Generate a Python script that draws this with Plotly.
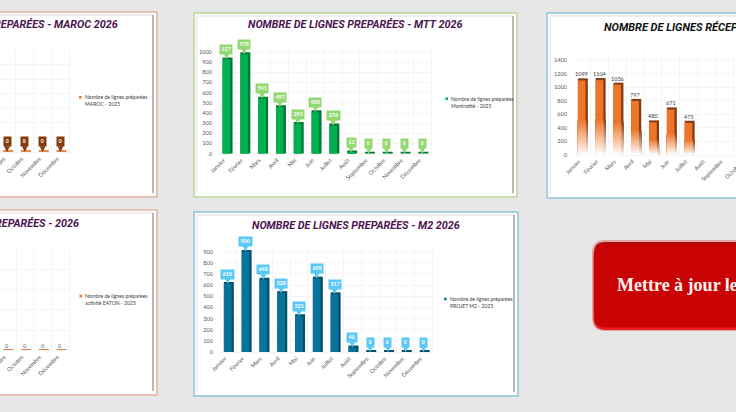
import plotly.graph_objects as go

W, H = 736, 412
MONTHS = ["Janvier", "Février", "Mars", "Avril", "Mai", "Juin", "Juillet", "Août",
          "Septembre", "Octobre", "Novembre", "Décembre"]

mtt_values = [927, 978, 541, 457, 291, 408, 276, 12, 0, 0, 0, 0]
m2_values = [610, 900, 648, 528, 321, 658, 517, 40, 0, 0, 0, 0]
recep_values = [1099, 1104, 1036, 797, 480, 671, 475]
maroc_months = ["Septembre", "Octobre", "Novembre", "Décembre"]
maroc_values = [0, 0, 0, 0]
eaton_months = ["Septembre", "Octobre", "Novembre", "Décembre"]
eaton_values = [0, 0, 0, 0]

TITLE_FONT = "Roboto, sans-serif"
BODY_FONT = "Lato, sans-serif"
TITLE_PURPLE = "#4b1450"


def px(x):
    return x / W


def py(y):
    return 1 - y / H


shapes, annotations = [], []
fig = go.Figure()
layout = {}


def panel(x0, y0, x1, y1, border):
    shapes.append(dict(type="rect", xref="paper", yref="paper", x0=px(x0), x1=px(x1), y0=py(y0), y1=py(y1),
                       fillcolor="white", line=dict(color=border, width=2), layer="below"))
    shapes.append(dict(type="line", xref="paper", yref="paper", x0=px(x0 + 3), x1=px(x1 - 4), y0=py(y0 + 3), y1=py(y0 + 3),
                       line=dict(color="#dddddd", width=1), layer="below"))
    shapes.append(dict(type="line", xref="paper", yref="paper", x0=px(x0 + 3), x1=px(x0 + 3), y0=py(y0 + 3), y1=py(y1 - 4),
                       line=dict(color="#dddddd", width=1), layer="below"))
    shapes.append(dict(type="line", xref="paper", yref="paper", x0=px(x1 - 4), x1=px(x1 - 4), y0=py(y0 + 3), y1=py(y1 - 4),
                       line=dict(color="#707070", width=1), layer="below"))


def title(text, x, y, anchor, color=TITLE_PURPLE, size=10.8):
    annotations.append(dict(text=f"<b><i>{text}</i></b>", xref="paper", yref="paper", x=px(x), y=py(y),
                            xanchor=anchor, yanchor="middle", showarrow=False,
                            font=dict(family=TITLE_FONT, size=size, color=color)))


def legend(x, y, line1, line2, color):
    shapes.append(dict(type="rect", xref="paper", yref="paper", x0=px(x), x1=px(x + 2.6), y0=py(y - 1.3), y1=py(y + 1.3),
                       fillcolor=color, line=dict(width=0)))
    for k, t in enumerate((line1, line2)):
        annotations.append(dict(text=t, xref="paper", yref="paper", x=px(x + 3.8), y=py(y + 7 * k),
                                xanchor="left", yanchor="middle", showarrow=False,
                                font=dict(family=BODY_FONT, size=5.1, color="#404040")))


def axes(idx, cats, left, right, bottom, top, first_center, cat_w, ymax, dtick, show_y=True):
    xname = "xaxis" if idx == 1 else f"xaxis{idx}"
    yname = "yaxis" if idx == 1 else f"yaxis{idx}"
    x0 = (left - first_center) / cat_w
    x1 = (right - first_center) / cat_w
    layout[xname] = dict(domain=[max(0, px(left)), min(1, px(right))], anchor=f"y{idx}", type="category",
                         categoryorder="array", categoryarray=cats, range=[x0, x1],
                         tickangle=-45, tickson="boundaries", showgrid=True, gridcolor="#f5f5f5", gridwidth=1,
                         showline=True, linecolor="#f5f5f5", ticks="", ticklabeloverflow="allow",
                         ticklabelshift=-3,
                         tickfont=dict(family=BODY_FONT, size=5.8, color="#595959"), automargin=False, fixedrange=True)
    layout[yname] = dict(domain=[py(bottom), py(top)], anchor=f"x{idx}", range=[0, ymax], dtick=dtick,
                         showgrid=True, gridcolor="#f5f5f5", gridwidth=1, zeroline=False,
                         ticks="outside" if show_y else "", ticklen=4, tickcolor="rgba(0,0,0,0)",
                         showticklabels=show_y, ticklabeloverflow="allow",
                         tickfont=dict(family=BODY_FONT, size=5.6, color="#595959"), automargin=False, fixedrange=True)


W_BAR, D_BAR = 0.43, 0.13


def bars3d(idx, cats, vals, front, side, dy):
    xa, ya = ("x", "y") if idx == 1 else (f"x{idx}", f"y{idx}")
    fig.add_trace(go.Bar(x=cats, y=[v + dy for v in vals], width=W_BAR + D_BAR, offset=-W_BAR / 2,
                         marker=dict(color=side, line=dict(width=0)), xaxis=xa, yaxis=ya, showlegend=False,
                         hoverinfo="skip"))
    fig.add_trace(go.Bar(x=cats, y=vals, width=W_BAR, offset=-W_BAR / 2,
                         marker=dict(color=front, line=dict(width=0)), xaxis=xa, yaxis=ya, showlegend=False,
                         hoverinfo="skip"))


def mix(c, t):
    """c mixed with white; t=1 pure colour."""
    r, g, b = [int(c[i:i + 2], 16) for i in (1, 3, 5)]
    f = lambda a: int(round(255 + (a - 255) * t))
    return f"rgb({f(r)},{f(g)},{f(b)})"


def faded_stack(idx, cats, vals, color, width, dy=0.0, fade=0.48, steps=24):
    # each column: full bar, then ever shorter and paler bars painted over it from the base
    xa, ya = f"x{idx}", f"y{idx}"
    xs, hs, cols = [], [], []
    for c, v in zip(cats, vals):
        xs.append(c); hs.append(v + dy); cols.append(color)
        for s in range(steps - 1, -1, -1):
            xs.append(c); hs.append(fade * (s + 1) / steps * v)
            cols.append(mix(color, (s + 0.5) / steps))
    fig.add_trace(go.Bar(x=xs, y=hs, width=width, offset=-W_BAR / 2,
                         marker=dict(color=cols, line=dict(width=0)), xaxis=xa, yaxis=ya,
                         showlegend=False, hoverinfo="skip"))


def callouts(idx, cats, vals, box, stem_h=10):
    xa, ya = ("x", "y") if idx == 1 else (f"x{idx}", f"y{idx}")
    for c, v in zip(cats, vals):
        annotations.append(dict(text=f"<b>{v}</b>", xref=xa, yref=ya, x=c, y=v, ax=0, ay=-stem_h,
                                showarrow=True, arrowhead=2, arrowsize=0.9, arrowwidth=1.3, arrowcolor=box,
                                bgcolor=box, borderpad=1.4, height=6,
                                font=dict(family=BODY_FONT, size=5.5, color="white")))


def plain_labels(idx, cats, vals, shift, color="#404040"):
    for c, v in zip(cats, vals):
        annotations.append(dict(text=str(v), xref=f"x{idx}", yref=f"y{idx}", x=c, y=v, yshift=shift,
                                showarrow=False, font=dict(family=BODY_FONT, size=5.5, color=color)))


# ---- panels
panel(-6, 12, 157, 197, "#e3c3b3")
panel(194, 13, 517, 197, "#c7dbb0")
panel(547, 13, 760, 198, "#a8cfe0")
panel(-6, 210, 157, 395, "#e3c3b3")
panel(194, 212, 518, 396, "#a8cfe0")

# ---- Maroc (1)
axes(1, maroc_months, 0, 71, 152, 50, 7, 17.8, 7, 1, show_y=False)
bars3d(1, maroc_months, maroc_values, "#c55a11", "#e08a50", 0.1)
callouts(1, maroc_months, maroc_values, "#843c0c")
title("NOMBRE DE LIGNES PREPARÉES - MAROC 2026", 120, 25, "right")
legend(79, 97.3, "Nombre de lignes préparées", "MAROC - 2025", "#ed7d31")

# ---- MTT (2)
axes(2, MONTHS, 218, 433, 153.7, 50, 226.4, 17.8, 1020, 100)
bars3d(2, MONTHS, mtt_values, "#00b050", "#007a38", 20)
callouts(2, MONTHS, mtt_values, "#92d873")
title("NOMBRE DE LIGNES PREPARÉES - MTT 2026", 355, 25, "center")
legend(445.5, 98.7, "Nombre de lignes préparées", "Montrottié - 2025", "#00b050")

# ---- Réception (3)
axes(3, MONTHS[:9], 573, 736, 155, 52, 581.7, 17.8, 1518, 200)
faded_stack(3, MONTHS[:7], recep_values, "#843c12", W_BAR + D_BAR, dy=30)
faded_stack(3, MONTHS[:7], recep_values, "#ed7428", W_BAR)
plain_labels(3, MONTHS[:7], recep_values, 6)
annotations.append(dict(text="Octobre", xref="paper", yref="paper", x=px(733), y=py(171), textangle=-45,
                        xanchor="center", yanchor="middle", showarrow=False,
                        font=dict(family=BODY_FONT, size=5.8, color="#595959")))
title("NOMBRE DE LIGNES RÉCEPTIONNÉES - 2026", 602, 27.5, "left", color="#111111", size=11)

# ---- Eaton (4)
axes(4, eaton_months, 0, 72, 350.3, 249, 7.3, 17.7, 5, 1, show_y=False)
bars3d(4, eaton_months, eaton_values, "#d9824a", "#d9824a", 0.07)
plain_labels(4, eaton_months, eaton_values, 4.6, color="#595959")
title("NOMBRE DE LIGNES PREPARÉES - 2026", 81, 223, "right")
legend(79.5, 296, "Nombre de lignes préparées", "activité EATON - 2025", "#ed7d31")

# ---- M2 (5)
axes(5, MONTHS, 219, 434, 352, 250, 227.7, 17.8, 915, 100)
bars3d(5, MONTHS, m2_values, "#0a739c", "#064f6b", 18)
callouts(5, MONTHS, m2_values, "#5cc8f5")
title("NOMBRE DE LIGNES PREPARÉES - M2 2026", 356, 225, "center")
legend(444, 299, "Nombre de lignes préparées", "PROJET M2 - 2025", "#0a739c")

# ---- red button
bx, by0, by1, r = 593, 241, 330, 12


def btn(x, y0, y1, rad, fill, line=None):
    path = (f"M {px(x + rad)},{py(y0)} L {px(750)},{py(y0)} L {px(750)},{py(y1)} L {px(x + rad)},{py(y1)} "
            f"Q {px(x)},{py(y1)} {px(x)},{py(y1 - rad)} L {px(x)},{py(y0 + rad)} Q {px(x)},{py(y0)} {px(x + rad)},{py(y0)} Z")
    shapes.append(dict(type="path", xref="paper", yref="paper", path=path, fillcolor=fill,
                       line=dict(color=line or fill, width=2 if line else 0)))


btn(bx, by0, by1, r, "#a80c0c", "#e3a6a6")
btn(bx + 0.5, by0 + 3, by1, r, "#ee1c1c")
btn(bx + 1, by0 + 3, by1 - 2.5, r - 1, "#c90303")
annotations.append(dict(text="<b>Mettre à jour les données</b>", xref="paper", yref="paper", x=px(615), y=py(285),
                        xanchor="left", yanchor="middle", showarrow=False,
                        font=dict(family="Liberation Serif, serif", size=18, color="#fff4f0")))

fig.update_layout(width=W, height=H, margin=dict(l=0, r=0, t=0, b=0), paper_bgcolor="#e7e7e7",
                  plot_bgcolor="rgba(0,0,0,0)", barmode="overlay", showlegend=False,
                  shapes=shapes, annotations=annotations, **layout)
fig.write_html("out.html", config=dict(displayModeBar=False),
               post_script="document.body.style.margin='0';document.body.style.overflow='hidden';")
